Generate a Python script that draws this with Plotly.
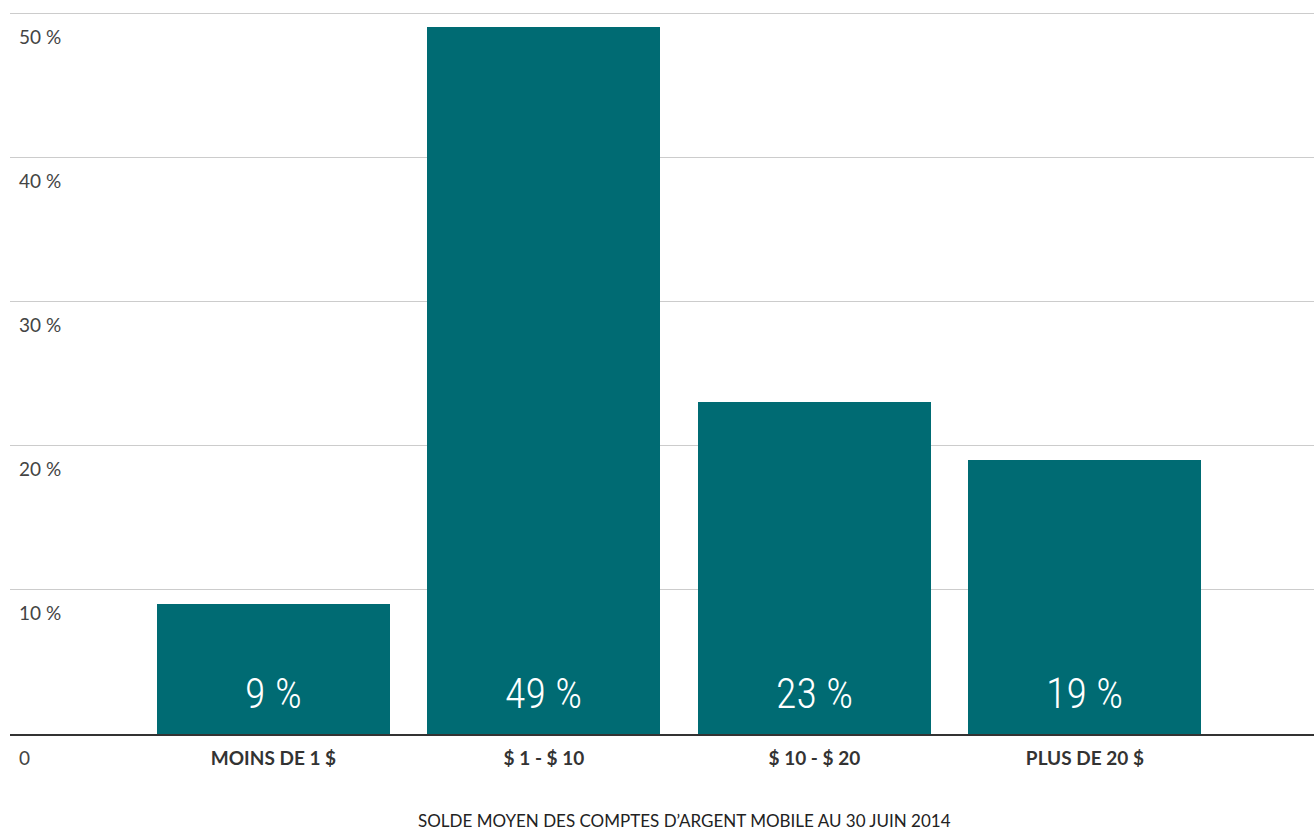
import plotly.graph_objects as go

categories = ["MOINS DE 1 $", "$ 1 - $ 10", "$ 10 - $ 20", "PLUS DE 20 $"]
values = [9, 49, 23, 19]
value_labels = ["9 %", "49 %", "23 %", "19 %"]
y_ticks = [0, 10, 20, 30, 40, 50]
y_tick_labels = ["0", "10 %", "20 %", "30 %", "40 %", "50 %"]
title_text = "SOLDE MOYEN DES COMPTES D\u2019ARGENT MOBILE AU 30 JUIN 2014"

BAR_COLOR = "#006b73"
xpos = list(range(len(categories)))

fig = go.Figure()
fig.add_trace(go.Bar(
    x=xpos, y=values, width=0.861,
    marker=dict(color=BAR_COLOR, line=dict(width=0)),
    hoverinfo="skip",
))

for xi, lab in zip(xpos, value_labels):
    fig.add_annotation(
        x=xi, y=0, xref="x", yref="y", text=lab, showarrow=False,
        yanchor="bottom", yshift=14,
        font=dict(family="Roboto Condensed, DejaVu Sans Condensed, Liberation Sans Narrow, Roboto, sans-serif",
                  size=42, color="white", weight=300),
    )

fig.add_annotation(
    x=0.5169, y=0, xref="paper", yref="paper", text=title_text, showarrow=False,
    yanchor="top", yshift=-74,
    font=dict(family="Lato, sans-serif", size=17, color="#222222"),
)

fig.update_layout(
    width=1314, height=830,
    margin=dict(l=10, r=0, t=10, b=96, autoexpand=False),
    paper_bgcolor="white", plot_bgcolor="white",
    showlegend=False,
    bargap=0,
    xaxis=dict(
        range=[-0.974, 3.847],
        tickmode="array", tickvals=xpos, ticktext=categories,
        tickfont=dict(family="Lato, sans-serif", size=19, color="#333333", weight="bold"),
        showgrid=False, zeroline=False,
        showline=True, linecolor="#333333", linewidth=2,
        ticks="", ticklen=0, ticklabelstandoff=6,
        automargin=False,
        fixedrange=True,
    ),
    yaxis=dict(
        range=[0, 50.208],
        tickmode="array", tickvals=y_ticks, ticktext=y_tick_labels,
        tickfont=dict(family="Lato, sans-serif", size=19, color="#444444"),
        ticklabelposition="inside", ticklabelstandoff=6, ticklabelshift=24,
        ticklabeloverflow="allow",
        showgrid=True, gridcolor="#cccccc", gridwidth=1,
        zeroline=False, showline=False, ticks="",
        automargin=False,
        fixedrange=True,
    ),
)

fig.write_html("out.html")
